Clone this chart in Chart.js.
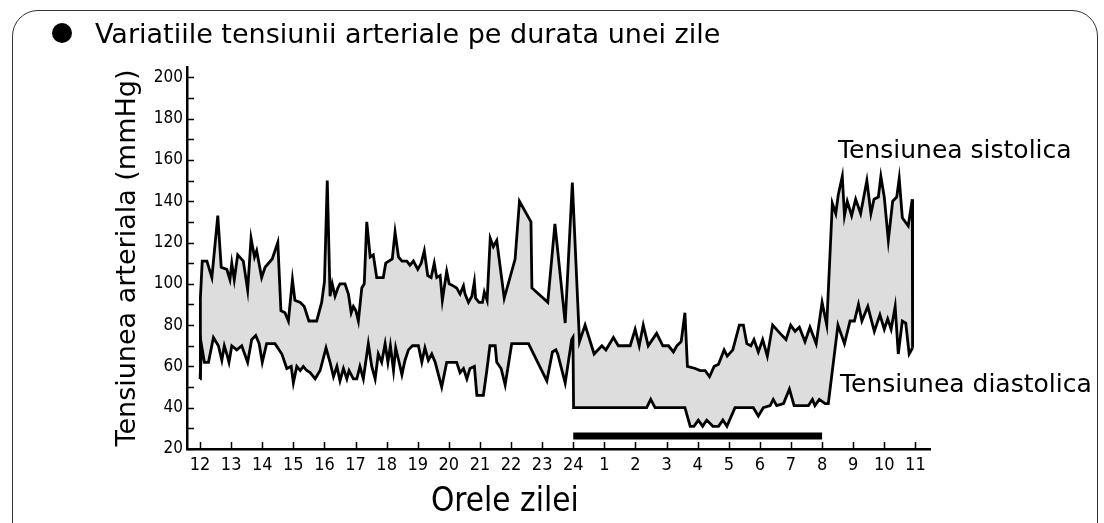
<!DOCTYPE html>
<html>
<head>
<meta charset="utf-8">
<title>Variatiile tensiunii arteriale</title>
<script src="https://cdn.jsdelivr.net/npm/chart.js@4.4.1/dist/chart.umd.min.js"></script>
<style>
  html, body { margin: 0; padding: 0; background: #fff; }
  #wrap { position: relative; width: 1104px; height: 523px; overflow: hidden; }
  #frame { position: absolute; left: 12px; top: 10px; width: 1084px; height: 560px; border: 1.5px solid #333; border-radius: 26px; }
  #chart { position: absolute; left: 0; top: 0; }
</style>
</head>
<body>
<div id="wrap">
  <div id="frame"></div>
  <canvas id="chart" width="1104" height="523"></canvas>
</div>
<script>
//Etichete axe
const xTickLabels = ["12", "13", "14", "15", "16", "17", "18", "19", "20", "21", "22", "23",
  "24", "1", "2", "3", "4", "5", "6", "7", "8", "9", "10", "11"];
const yTickValues = [20, 40, 60, 80, 100, 120, 140, 160, 180, 200];

//ore de la 12:00 (0 = ora 12, 12 = ora 24, 23 = ora 11)
const sysHours = [
  0.00, 0.01, 0.07, 0.22, 0.38, 0.57, 0.68, 0.86, 0.96, 1.02,
  1.10, 1.21, 1.39, 1.53, 1.64, 1.75, 1.82, 1.98, 2.09, 2.32,
  2.50, 2.60, 2.73, 2.84, 2.97, 3.05, 3.22, 3.35, 3.50, 3.75,
  3.91, 4.00, 4.09, 4.18, 4.25, 4.34, 4.43, 4.50, 4.66, 4.77,
  4.86, 4.93, 5.01, 5.09, 5.20, 5.28, 5.36, 5.47, 5.57, 5.68,
  5.89, 5.97, 6.18, 6.27, 6.38, 6.49, 6.65, 6.75, 6.86, 7.00,
  7.11, 7.21, 7.32, 7.43, 7.53, 7.61, 7.72, 7.79, 7.93, 8.01,
  8.14, 8.25, 8.36, 8.47, 8.52, 8.63, 8.74, 8.82, 8.86, 8.97,
  9.08, 9.14, 9.23, 9.33, 9.43, 9.54, 9.78, 10.13, 10.27, 10.64,
  10.67, 11.18, 11.41, 11.74, 11.97, 12.20, 12.38, 12.67, 12.92, 13.05,
  13.29, 13.45, 13.83, 13.99, 14.12, 14.25, 14.41, 14.68, 14.88, 15.06,
  15.22, 15.33, 15.47, 15.59, 15.67, 15.92, 16.08, 16.24, 16.38, 16.53,
  16.67, 16.85, 16.95, 17.13, 17.34, 17.47, 17.58, 17.71, 17.81, 17.95,
  18.09, 18.24, 18.41, 18.65, 18.84, 18.99, 19.13, 19.27, 19.45, 19.61,
  19.81, 20.00, 20.15, 20.33, 20.44, 20.52, 20.65, 20.72, 20.81, 20.95,
  21.08, 21.24, 21.44, 21.57, 21.67, 21.81, 21.89, 22.00, 22.13, 22.27,
  22.40, 22.48, 22.58, 22.77, 22.90, 22.91
];
const sysValues = [
  54, 93, 111, 111, 103, 133, 108, 107, 102, 110,
  102, 114, 111, 97, 122, 113, 116, 103, 108, 112,
  120, 87, 86, 82, 102, 92, 91, 89, 82, 82,
  91, 101, 150, 94, 100, 94, 98, 100, 100, 95,
  86, 89, 87, 82, 98, 100, 130, 113, 114, 103,
  103, 110, 112, 125, 113, 111, 111, 109, 111, 107,
  110, 116, 104, 103, 110, 103, 104, 92, 106, 100,
  99, 98, 95, 99, 95, 91, 94, 101, 93, 91,
  91, 96, 92, 122, 118, 121, 93, 112, 140, 130,
  98, 91, 129, 81, 149, 72, 80, 66, 70, 68,
  74, 70, 70, 78, 70, 80, 70, 76, 70, 70,
  67, 70, 72, 86, 60, 59, 58, 58, 55, 60,
  61, 68, 65, 68, 80, 80, 71, 70, 73, 67,
  73, 65, 80, 76, 73, 80, 77, 79, 72, 79,
  71, 91, 80, 139, 134, 143, 152, 133, 140, 133,
  141, 134, 150, 134, 141, 142, 152, 142, 121, 140,
  142, 151, 132, 128, 141, 69
];

const diaHours = [
  0.00, 0.05, 0.14, 0.27, 0.43, 0.59, 0.70, 0.78, 0.86, 0.93,
  1.02, 1.18, 1.34, 1.53, 1.66, 1.79, 1.90, 2.00, 2.14, 2.41,
  2.63, 2.79, 2.93, 3.00, 3.11, 3.22, 3.32, 3.43, 3.54, 3.70,
  3.86, 4.05, 4.18, 4.29, 4.40, 4.50, 4.61, 4.72, 4.79, 4.93,
  5.04, 5.14, 5.25, 5.41, 5.52, 5.63, 5.73, 5.84, 5.95, 6.04,
  6.12, 6.22, 6.29, 6.40, 6.49, 6.59, 6.70, 6.83, 7.02, 7.13,
  7.23, 7.34, 7.45, 7.56, 7.77, 7.93, 8.25, 8.36, 8.47, 8.58,
  8.68, 8.82, 8.90, 9.11, 9.22, 9.32, 9.49, 9.54, 9.68, 9.81,
  10.02, 10.56, 11.15, 11.33, 11.44, 11.50, 11.74, 11.95, 11.99, 12.01,
  14.36, 14.49, 14.63, 15.59, 15.76, 15.88, 16.02, 16.16, 16.29, 16.49,
  16.67, 16.81, 16.94, 17.20, 17.79, 17.95, 18.11, 18.33, 18.43, 18.54,
  18.76, 18.95, 19.10, 19.56, 19.69, 19.77, 19.91, 20.10, 20.20, 20.51,
  20.72, 20.90, 21.04, 21.17, 21.28, 21.47, 21.68, 21.86, 22.00, 22.11,
  22.22, 22.35, 22.45, 22.58, 22.69, 22.80, 22.91
];
const diaValues = [
  54, 70, 62, 62, 74, 70, 63, 70, 66, 62,
  70, 68, 70, 62, 73, 75, 71, 62, 71, 71,
  66, 59, 60, 52, 60, 58, 60, 58, 57, 54,
  58, 69, 62, 55, 60, 53, 59, 54, 58, 54,
  54, 60, 54, 71, 60, 54, 66, 62, 71, 62,
  70, 58, 69, 62, 56, 63, 68, 70, 70, 62,
  69, 63, 66, 62, 50, 62, 62, 57, 59, 54,
  59, 60, 46, 46, 58, 70, 70, 62, 59, 51,
  71, 71, 53, 67, 68, 66, 52, 73, 74, 40,
  40, 44, 40, 40, 31, 31, 34, 31, 34, 31,
  31, 34, 31, 40, 40, 36, 40, 41, 44, 41,
  42, 49, 41, 41, 44, 41, 44, 42, 42, 80,
  71, 82, 82, 90, 82, 89, 77, 85, 78, 83,
  78, 89, 66, 82, 81, 66, 69
];

//perioada de somn: ora 24 -> ora 8
const sleepHours = [12, 20];

//Stiluri
const SLEEP_BAR_LEVEL = 26.3;
const FONT = "'DejaVu Sans', sans-serif";
const FONT_COND = "'DejaVu Sans Condensed', 'DejaVu Sans', sans-serif";

const toPoints = (hours, values) => hours.map((h, i) => ({ x: h, y: values[i] }));

//Texte desenate pe canvas
const textPlugin = {
  id: "texts",
  afterDraw(chart) {
    const ctx = chart.ctx;
    const { left, bottom } = chart.chartArea;
    const xs = chart.scales.x;
    const ys = chart.scales.y;
    ctx.save();

    //ticks spre interior
    ctx.strokeStyle = "#000";
    ctx.lineWidth = 1.5;
    ctx.beginPath();
    for (let v = 20; v <= 200; v += 10) {
      const py = Math.round(ys.getPixelForValue(v)) + 0.5;
      ctx.moveTo(left, py);
      ctx.lineTo(left + 7, py);
    }
    xTickLabels.forEach((_, i) => {
      const px = Math.round(xs.getPixelForValue(i)) + 0.5;
      ctx.moveTo(px, bottom);
      ctx.lineTo(px, bottom - 7);
    });
    ctx.stroke();

    //titlu
    ctx.fillStyle = "#000";
    ctx.beginPath();
    ctx.arc(62, 33, 10, 0, Math.PI * 2);
    ctx.fill();
    ctx.textBaseline = "alphabetic";
    ctx.textAlign = "left";
    ctx.font = "27px " + FONT;
    ctx.fillText("Variatiile tensiunii arteriale pe durata unei zile", 95, 43);

    //etichete serii
    ctx.font = "25px " + FONT;
    ctx.fillText("Tensiunea sistolica", 838, 158);
    ctx.fillText("Tensiunea diastolica", 840, 392);

    //axa x
    ctx.font = "33px " + FONT_COND;
    ctx.fillText("Orele zilei", 431, 511);
    ctx.restore();
  }
};

const ctx = document.getElementById("chart");

new Chart(ctx, {
  type: "line",
  data: {
    datasets: [
      {
        label: "Tensiunea sistolica",
        data: toPoints(sysHours, sysValues),
        borderColor: "#000",
        borderWidth: 2.8,
        backgroundColor: "#dddddd",
        fill: "+1",
        pointRadius: 0,
        tension: 0
      },
      {
        label: "Tensiunea diastolica",
        data: toPoints(diaHours, diaValues),
        borderColor: "#000",
        borderWidth: 2.8,
        fill: false,
        pointRadius: 0,
        tension: 0
      },
      {
        label: "Somn",
        data: sleepHours.map(h => ({ x: h, y: SLEEP_BAR_LEVEL })),
        borderColor: "#000",
        borderWidth: 7,
        borderCapStyle: "butt",
        fill: false,
        pointRadius: 0
      }
    ]
  },
  options: {
    responsive: false,
    animation: false,
    layout: { padding: { left: 0, right: 174, top: 67, bottom: 0 } },
    plugins: {
      legend: { display: false },
      tooltip: { enabled: false },
      filler: { drawTime: "beforeDatasetsDraw" }
    },
    scales: {
      x: {
        type: "linear",
        min: -0.42,
        max: 23.47,
        grid: { display: false, drawTicks: false },
        border: { display: true, color: "#000", width: 2.5 },
        afterFit: scale => { scale.height = 74; },
        afterBuildTicks: scale => {
          scale.ticks = xTickLabels.map((_, i) => ({ value: i }));
        },
        ticks: {
          autoSkip: false,
          maxRotation: 0,
          padding: 6,
          color: "#000",
          font: { family: FONT_COND, size: 18 },
          callback: v => xTickLabels[v]
        }
      },
      y: {
        min: 20,
        max: 205,
        grid: { display: false, drawTicks: false },
        border: { display: true, color: "#000", width: 2.5 },
        afterFit: scale => { scale.width = 187; },
        afterBuildTicks: scale => {
          scale.ticks = yTickValues.map(v => ({ value: v }));
        },
        ticks: {
          padding: 4,
          color: "#000",
          font: { family: FONT_COND, size: 17 },
          callback: v => String(v)
        },
        title: {
          display: true,
          text: "Tensiunea arteriala (mmHg)",
          color: "#000",
          font: { family: "DejaVu Sans", size: 27, weight: "normal" },
          padding: { top: 112, bottom: 0 }
        }
      }
    }
  },
  plugins: [textPlugin]
});
</script>
</body>
</html>
